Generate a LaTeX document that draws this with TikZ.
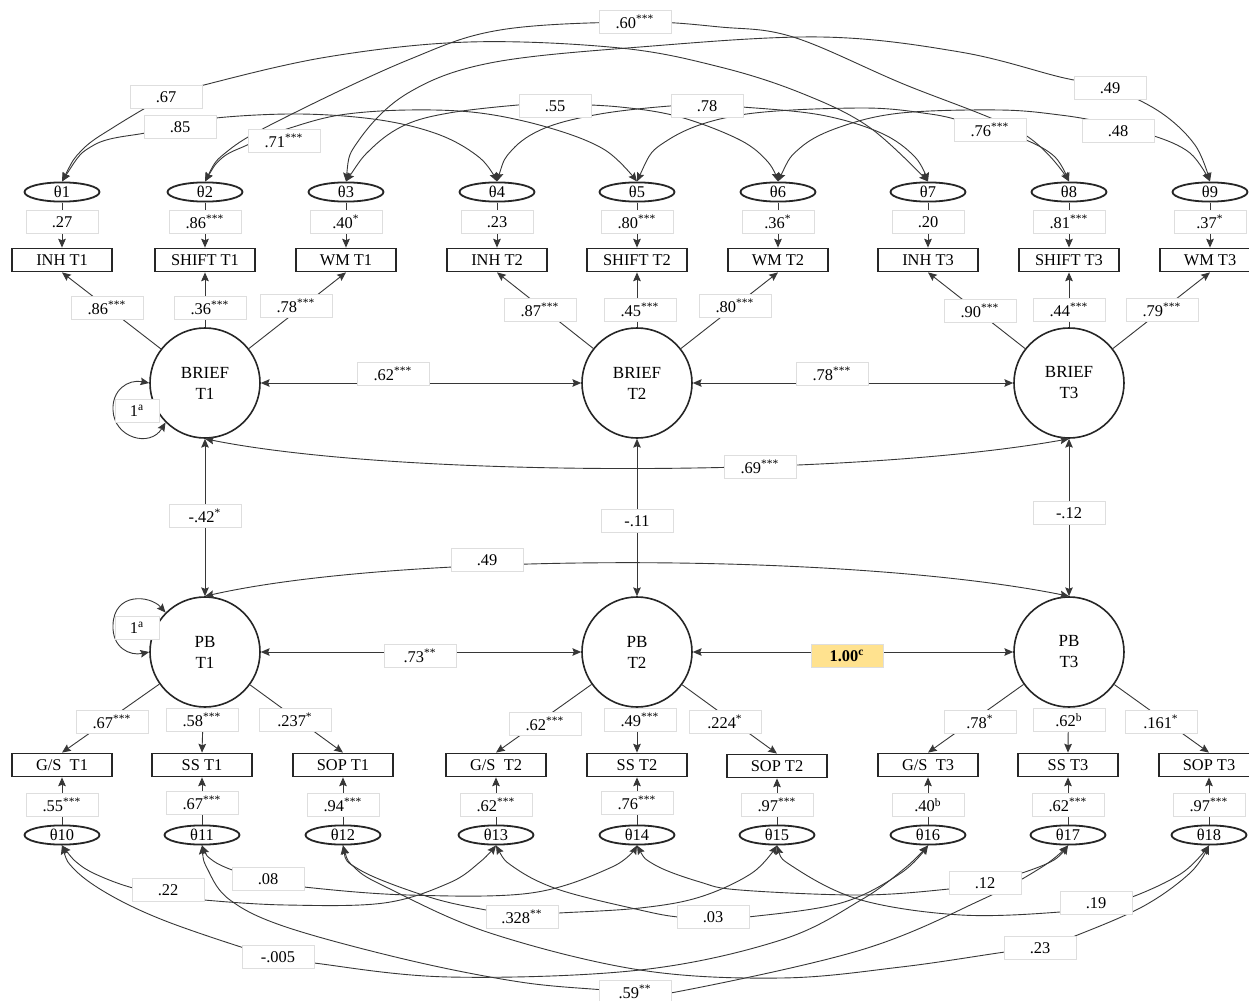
\documentclass[tikz,border=0pt]{standalone}
\usepackage{fontspec}
\setmainfont{Liberation Serif}
\usetikzlibrary{arrows.meta,shapes.geometric}
\definecolor{hl}{RGB}{255,226,143}
\definecolor{ln}{RGB}{55,55,55}
\newcommand{\sups}[1]{\textsuperscript{#1}}

\begin{document}
\begin{tikzpicture}[x=0.5pt,y=-0.5pt,
  >={Stealth[length=4.4pt,width=3.8pt,inset=0.7pt]},
  every node/.style={font=\fontsize{8.2}{10}\selectfont},
  lat/.style={circle,draw=black!85,line width=0.8pt,minimum size=55pt,inner sep=0pt,align=center,
    font=\fontsize{8.5}{10.5}\selectfont},
  ind/.style={rectangle,draw=black!85,line width=0.9pt,minimum width=50pt,minimum height=11.5pt,inner sep=0pt},
  err/.style={ellipse,draw=black!85,line width=0.9pt,minimum width=37.5pt,minimum height=9.6pt,inner sep=0pt},
  lab/.style={rectangle,fill=white,draw=black!13,line width=0.3pt,minimum width=36pt,minimum height=11.5pt,inner sep=1pt},
  conn/.style={draw=ln,line width=0.45pt},
  arc/.style={conn,<->},
  crv/.style={smooth,tension=0.6}]
\useasboundingbox[fill=white] (0,0) rectangle (1249,1001);

% ---------- residuals of the BRIEF indicators ----------
\node[err] (e1) at (62,192) {θ1};
\node[err] (e2) at (205,192) {θ2};
\node[err] (e3) at (346,192) {θ3};
\node[err] (e4) at (497,192) {θ4};
\node[err] (e5) at (637,192) {θ5};
\node[err] (e6) at (778,192) {θ6};
\node[err] (e7) at (928,192) {θ7};
\node[err] (e8) at (1069,192) {θ8};
\node[err] (e9) at (1210,192) {θ9};

% ---------- BRIEF indicators ----------
\node[ind] (inh1) at (62,260) {INH T1};
\node[ind] (sh1) at (205,260) {SHIFT T1};
\node[ind] (wm1) at (346,260) {WM T1};
\node[ind] (inh2) at (497,260) {INH T2};
\node[ind] (sh2) at (637,260) {SHIFT T2};
\node[ind] (wm2) at (778,260) {WM T2};
\node[ind] (inh3) at (928,260) {INH T3};
\node[ind] (sh3) at (1069,260) {SHIFT T3};
\node[ind] (wm3) at (1210,260) {WM T3};

% ---------- latent factors ----------
\node[lat] (b1) at (205,383) {BRIEF\\T1};
\node[lat] (b2) at (637,383) {BRIEF\\T2};
\node[lat] (b3) at (1069,383) {BRIEF\\T3};
\node[lat] (p1) at (205,652) {PB\\T1};
\node[lat] (p2) at (637,652) {PB\\T2};
\node[lat] (p3) at (1069,652) {PB\\T3};

% ---------- PB indicators ----------
\node[ind] (gs1) at (62,765) {G/S\ \ T1};
\node[ind] (ss1) at (202,765) {SS T1};
\node[ind] (sop1) at (343,765) {SOP T1};
\node[ind] (gs2) at (496,765) {G/S\ \ T2};
\node[ind] (ss2) at (637,765) {SS T2};
\node[ind] (sop2) at (777,766) {SOP T2};
\node[ind] (gs3) at (928,765) {G/S\ \ T3};
\node[ind] (ss3) at (1068,765) {SS T3};
\node[ind] (sop3) at (1209,765) {SOP T3};

% ---------- residuals of the PB indicators ----------
\node[err] (e10) at (62,835) {θ10};
\node[err] (e11) at (202,835) {θ11};
\node[err] (e12) at (343,835) {θ12};
\node[err] (e13) at (496,835) {θ13};
\node[err] (e14) at (637,835) {θ14};
\node[err] (e15) at (777,835) {θ15};
\node[err] (e16) at (928,835) {θ16};
\node[err] (e17) at (1068,835) {θ17};
\node[err] (e18) at (1209,835) {θ18};

% ---------- residual paths ----------
\foreach \e/\m in {e1/inh1,e2/sh1,e3/wm1,e4/inh2,e5/sh2,e6/wm2,e7/inh3,e8/sh3,e9/wm3,
                    e10/gs1,e11/ss1,e12/sop1,e13/gs2,e14/ss2,e15/sop2,e16/gs3,e17/ss3,e18/sop3}
  \draw[conn,->] (\e) -- (\m);

% ---------- loadings ----------
\foreach \f/\m in {b1/inh1,b1/sh1,b1/wm1,b2/inh2,b2/sh2,b2/wm2,b3/inh3,b3/sh3,b3/wm3}
  \draw[conn,->] (\f) -- (\m.south);
\foreach \f/\m in {p1/gs1,p1/ss1,p1/sop1,p2/gs2,p2/ss2,p2/sop2,p3/gs3,p3/ss3,p3/sop3}
  \draw[conn,->] (\f) -- (\m.north);

% ---------- factor covariances ----------
\draw[arc] (b1) -- (b2);
\draw[arc] (b2) -- (b3);
\draw[arc] (p1) -- (p2);
\draw[arc] (p2) -- (p3);
\draw[arc] (b1) -- (p1);
\draw[arc] (b2) -- (p2);
\draw[arc] (b3) -- (p3);
\draw[arc] (b1.south) .. controls (400,478) and (850,478) .. (b3.south);
\draw[arc] (p1.north) .. controls (400,552) and (850,552) .. (p3.north);

% fixed variances
\draw[arc] (b1.west) .. controls (128,379) and (112,390) .. (113,410)
           .. controls (114,438) and (150,448) .. (b1.225);
\draw[arc] (p1.135) .. controls (150,595) and (114,592) .. (113,625)
           .. controls (112,648) and (130,656) .. (p1.west);

% ---------- correlated residuals, BRIEF side ----------
\draw[arc] plot[crv] coordinates {(e2.north) (229,150) (286,117) (408,60) (500,30) (635,22) (720,27) (793,37) (901,83) (1022,133) (e8.north)};
\draw[arc] plot[crv] coordinates {(e1.north) (82,150) (114,127) (166,97) (200,86) (327,57) (469,42) (620,48) (720,67) (801,93) (869,127) (e7.north)};
\draw[arc] plot[crv] coordinates {(e3.north) (359,140) (408,93) (490,63) (640,47) (821,37) (960,52) (1060,77) (1110,88) (1160,112) (1195,145) (e9.north)};
\draw[arc] plot[crv] coordinates {(e1.north) (94,145) (145,133) (180,127) (216,118) (300,114) (380,120) (440,135) (480,158) (e4.north)};
\draw[arc] plot[crv] coordinates {(e2.north) (222,158) (245,146) (265,138) (290,128) (340,115) (408,110) (480,113) (550,128) (605,150) (e5.north)};
\draw[arc] plot[crv] coordinates {(e3.north) (372,148) (405,125) (449,113) (518,105) (555,104) (620,107) (680,117) (740,140) (768,162) (e6.north)};
\draw[arc] plot[crv] coordinates {(e4.north) (512,150) (545,128) (600,114) (670,106) (707,106) (742,107) (821,115) (881,133) (915,157) (e7.north)};
\draw[arc] plot[crv] coordinates {(e5.north) (668,140) (740,115) (861,108) (930,114) (965,122) (990,130) (1026,140) (1055,157) (e8.north)};
\draw[arc] plot[crv] coordinates {(e6.north) (800,148) (840,127) (901,113) (1000,110) (1060,115) (1100,122) (1118,130) (1154,136) (1190,153) (e9.north)};

% ---------- correlated residuals, PB side ----------
\draw[arc] plot[crv] coordinates {(e10.south) (80,865) (102,877) (133,888) (168,895) (204,900) (286,905) (384,903) (449,883) (480,862) (e13.south)};
\draw[arc] plot[crv] coordinates {(e11.south) (212,860) (235,871) (268,880) (304,887) (408,895) (531,893) (612,867) (e14.south)};
\draw[arc] plot[crv] coordinates {(e12.south) (360,870) (429,897) (486,910) (522,915) (559,913) (640,908) (700,897) (752,873) (e15.south)};
\draw[arc] plot[crv] coordinates {(e13.south) (515,868) (560,890) (640,910) (678,917) (713,918) (748,917) (841,903) (901,873) (e16.south)};
\draw[arc] plot[crv] coordinates {(e14.south) (655,865) (700,882) (740,890) (861,895) (949,889) (985,883) (1022,873) (1054,860) (e17.south)};
\draw[arc] plot[crv] coordinates {(e15.south) (795,868) (861,900) (961,915) (1060,912) (1096,905) (1132,897) (1182,873) (e18.south)};
\draw[arc] plot[crv] coordinates {(e10.south) (75,870) (110,895) (163,920) (241,947) (278,957) (314,963) (449,977) (640,970) (781,940) (861,900) (905,868) (e16.south)};
\draw[arc] plot[crv] coordinates {(e11.south) (208,870) (230,900) (286,927) (408,960) (520,982) (604,990) (635,993) (676,992) (861,950) (981,900) (1042,867) (e17.south)};
\draw[arc] plot[crv] coordinates {(e12.south) (355,868) (388,888) (490,933) (640,970) (781,978) (901,967) (1005,952) (1040,948) (1070,938) (1142,907) (1190,873) (e18.south)};

% ---------- estimates ----------
% residual covariances (BRIEF)
\node[lab] (c1) at (635,22) {.60\sups{***}};
\node[lab] (c2) at (166,97) {.67};
\node[lab] (c3) at (1110,88) {.49};
\node[lab] (c4) at (180,127) {.85};
\node[lab] (c5) at (284,141) {.71\sups{***}};
\node[lab] (c6) at (555,106) {.55};
\node[lab] (c7) at (707,106) {.78};
\node[lab] (c8) at (990,130) {.76\sups{***}};
\node[lab] (c9) at (1118,131) {.48};
% residual paths (BRIEF)
\node[lab] (r1) at (62,222) {.27};
\node[lab] (r2) at (205,222) {.86\sups{***}};
\node[lab] (r3) at (346,222) {.40\sups{*}};
\node[lab] (r4) at (497,222) {.23};
\node[lab] (r5) at (637,222) {.80\sups{***}};
\node[lab] (r6) at (778,222) {.36\sups{*}};
\node[lab] (r7) at (928,222) {.20};
\node[lab] (r8) at (1069,222) {.81\sups{***}};
\node[lab] (r9) at (1210,222) {.37\sups{*}};
% loadings (BRIEF)
\node[lab] (l1) at (107,308) {.86\sups{***}};
\node[lab] (l2) at (210,308) {.36\sups{***}};
\node[lab] (l3) at (296,306) {.78\sups{***}};
\node[lab] (l4) at (540,310) {.87\sups{***}};
\node[lab] (l5) at (640,310) {.45\sups{***}};
\node[lab] (l6) at (735,306) {.80\sups{***}};
\node[lab] (l7) at (980,311) {.90\sups{***}};
\node[lab] (l8) at (1069,310) {.44\sups{***}};
\node[lab] (l9) at (1162,310) {.79\sups{***}};
% factor covariances
\node[lab] (f1) at (393,374) {.62\sups{***}};
\node[lab] (f2) at (832,374) {.78\sups{***}};
\node[lab] (f3) at (760,467) {.69\sups{***}};
\node[lab] (f4) at (205,516) {-.42\sups{*}};
\node[lab] (f5) at (637,521) {-.11};
\node[lab] (f6) at (1069,513) {-.12};
\node[lab] (f7) at (487,560) {.49};
\node[lab] (f8) at (420,656) {.73\sups{**}};
\node[lab,fill=hl] (f9) at (847,656) {\textbf{1.00\sups{c}}};
\node[lab,minimum width=22pt] (v1) at (137,411) {1\sups{a}};
\node[lab,minimum width=22pt] (v2) at (137,628) {1\sups{a}};
% loadings (PB)
\node[lab] (m1) at (112,722) {.67\sups{***}};
\node[lab] (m2) at (202,720) {.58\sups{***}};
\node[lab] (m3) at (295,720) {.237\sups{*}};
\node[lab] (m4) at (545,724) {.62\sups{***}};
\node[lab] (m5) at (640,720) {.49\sups{***}};
\node[lab] (m6) at (725,722) {.224\sups{*}};
\node[lab] (m7) at (980,722) {.78\sups{*}};
\node[lab] (m8) at (1069,720) {.62\sups{b}};
\node[lab] (m9) at (1161,722) {.161\sups{*}};
% residual paths (PB)
\node[lab] (s1) at (62,805) {.55\sups{***}};
\node[lab] (s2) at (202,803) {.67\sups{***}};
\node[lab] (s3) at (343,805) {.94\sups{***}};
\node[lab] (s4) at (496,805) {.62\sups{***}};
\node[lab] (s5) at (637,803) {.76\sups{***}};
\node[lab] (s6) at (777,805) {.97\sups{***}};
\node[lab] (s7) at (928,805) {.40\sups{b}};
\node[lab] (s8) at (1068,805) {.62\sups{***}};
\node[lab] (s9) at (1209,805) {.97\sups{***}};
% residual covariances (PB)
\node[lab] (d1) at (168,890) {.22};
\node[lab] (d2) at (268,879) {.08};
\node[lab] (d3) at (522,917) {.328\sups{**}};
\node[lab] (d4) at (713,917) {.03};
\node[lab] (d5) at (985,883) {.12};
\node[lab] (d6) at (1096,903) {.19};
\node[lab] (d7) at (278,957) {-.005};
\node[lab] (d8) at (1040,948) {.23};
\node[lab] (d9) at (635,992) {.59\sups{**}};
\end{tikzpicture}
\end{document}
